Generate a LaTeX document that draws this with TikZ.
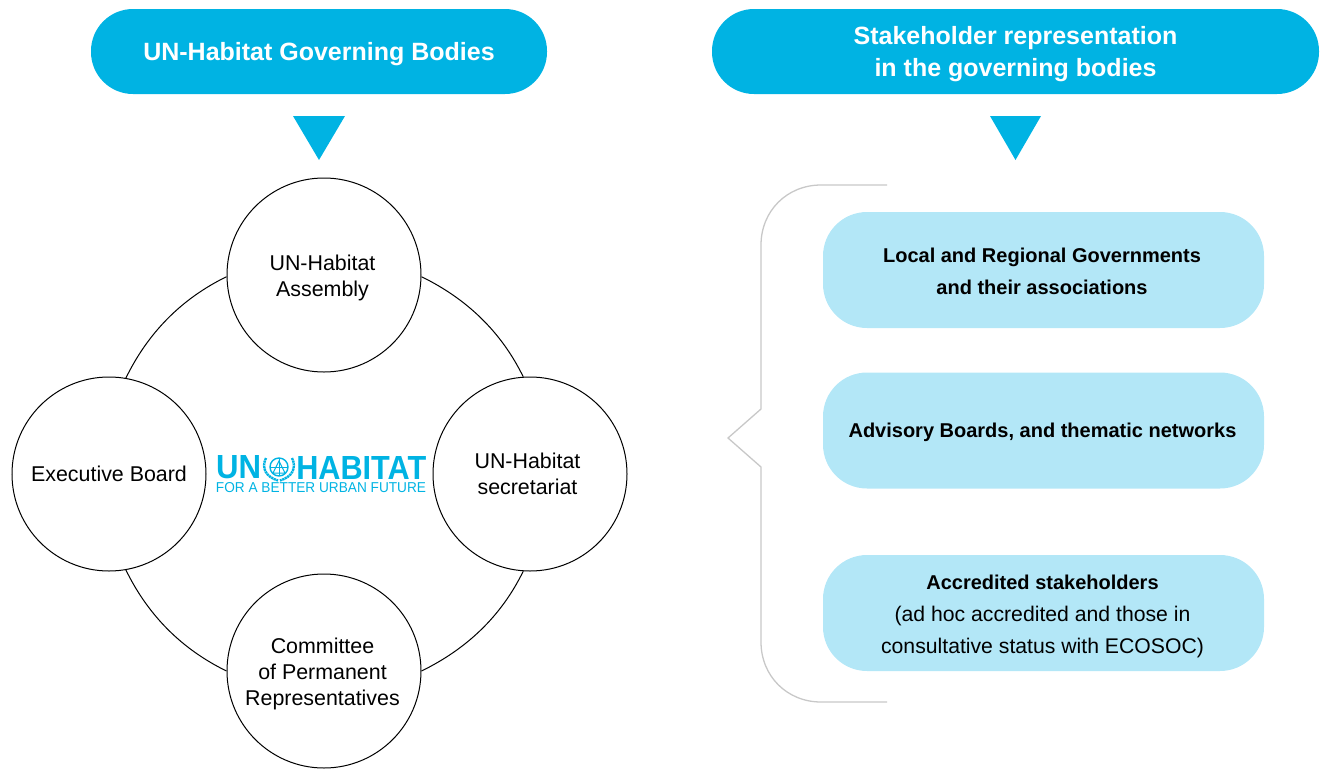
\documentclass[tikz,border=0pt]{standalone}
\usepackage{fontspec}
\setmainfont{Liberation Sans}
\definecolor{unblue}{HTML}{00B3E3}
\definecolor{paleblue}{HTML}{B3E7F7}
\definecolor{bracketgrey}{HTML}{C8C8C8}
\newcommand\tb[2]{\raisebox{-#1pt}[0pt][0pt]{\begin{tabular}[c]{@{}c@{}}#2\end{tabular}}}
\newcommand\bl[1]{{\fontsize{20}{32}\selectfont\bfseries #1}}
\tikzset{
  header/.style={fill=unblue,text=white,font=\fontsize{25}{32}\selectfont\bfseries,inner sep=0pt,rounded corners=42pt,minimum height=85pt},
  bluebox/.style={fill=paleblue,text=black,font=\fontsize{21.2}{32}\selectfont,inner sep=0pt,rounded corners=44pt,minimum width=441pt,minimum height=116pt},
  body/.style={circle,draw=black,line width=1pt,fill=white,minimum size=194pt,inner sep=0pt,font=\fontsize{21.4}{26}\selectfont},
  link/.style={draw=black,line width=1pt,looseness=.9},
  pointer/.style={fill=unblue,draw=none},
  bracket/.style={draw=bracketgrey,line width=1.3pt,line join=miter},
  logo/.style={text=unblue,inner sep=0pt,font=\fontsize{33}{33}\selectfont\bfseries},
}
\begin{document}
\begin{tikzpicture}[x=1pt,y=-1pt]
\useasboundingbox (0,0) rectangle (1320,769);
% headers
\node[header,minimum width=456pt] (hl) at (319,51.5) {\tb{9.3}{UN-Habitat Governing Bodies}};
\node[header,minimum width=607pt] (hr) at (1015.5,51.5) {\tb{9.3}{Stakeholder representation\\in the governing bodies}};
\fill[pointer] (293,116) -- (345,116) -- (319,160) -- cycle;
\fill[pointer] (990,116) -- (1041,116) -- (1015.5,160) -- cycle;
% circles
\node[body] (assembly) at (324,275) {\hspace*{-3pt}\tb{8.5}{UN-Habitat\\Assembly}};
\node[body] (board) at (109,474) {\tb{7.5}{Executive Board}};
\node[body] (secretariat) at (530,474) {\hspace*{-5pt}\tb{7.5}{UN-Habitat\\secretariat}};
\node[body] (committee) at (324,671) {\hspace*{-3pt}\tb{8}{Committee\\of Permanent\\Representatives}};
% arcs
\draw[link] (assembly.181) to[out=206,in=64] (board.80.5);
\draw[link] (assembly.-1) to[out=-26,in=116] (secretariat.94.8);
\draw[link] (board.-80.5) to[out=-64,in=154] (committee.180);
\draw[link] (secretariat.-94.8) to[out=-116,in=26] (committee.0);
% logo
\node[logo,anchor=west] (un) at (216,467.5) {\resizebox{45pt}{23pt}{UN}};
\node[logo,anchor=east] (habitat) at (426.5,467.5) {\resizebox{130pt}{23pt}{HABITAT}};
\node[text=unblue,inner sep=0pt] (tag) at (321,488) {\resizebox{210pt}{10pt}{FOR A BETTER URBAN FUTURE}};
\begin{scope}[draw=unblue,fill=none]
  \draw[line width=1.4pt] (279,467) circle (9);
  \draw[line width=1pt] (279,458) -- (279,476) (270,467) -- (288,467);
  \draw[line width=1pt] (273,473) -- (279,461) -- (285,473) -- cycle;
  \draw[line width=2.4pt,dash pattern=on 2.2pt off .6pt] (266,458) .. controls (261,468) and (266,477) .. (278,480.5);
  \draw[line width=2.4pt,dash pattern=on 2.2pt off .6pt] (292,458) .. controls (297,468) and (292,477) .. (280,480.5);
\end{scope}
% bracket
\draw[bracket] (887,185) -- (821,185) .. controls (787,185) and (761,211) .. (761,245)
  -- (761,409) -- (728,438) -- (761,467) -- (761,642)
  .. controls (761,676) and (787,702) .. (821,702) -- (887,702);
% boxes
\node[bluebox] (b1) at (1043.5,270) {\hspace*{-3pt}\tb{7.1}{\bl{Local and Regional Governments}\\\bl{and their associations}}};
\node[bluebox] (b2) at (1043.5,430.5) {\hspace*{-2pt}\tb{5.6}{\bl{Advisory Boards, and thematic networks}}};
\node[bluebox] (b3) at (1043.5,613) {\hspace*{-2pt}\tb{7.1}{\bl{Accredited stakeholders}\\(ad hoc accredited and those in\\consultative status with ECOSOC)}};
\end{tikzpicture}
\end{document}
